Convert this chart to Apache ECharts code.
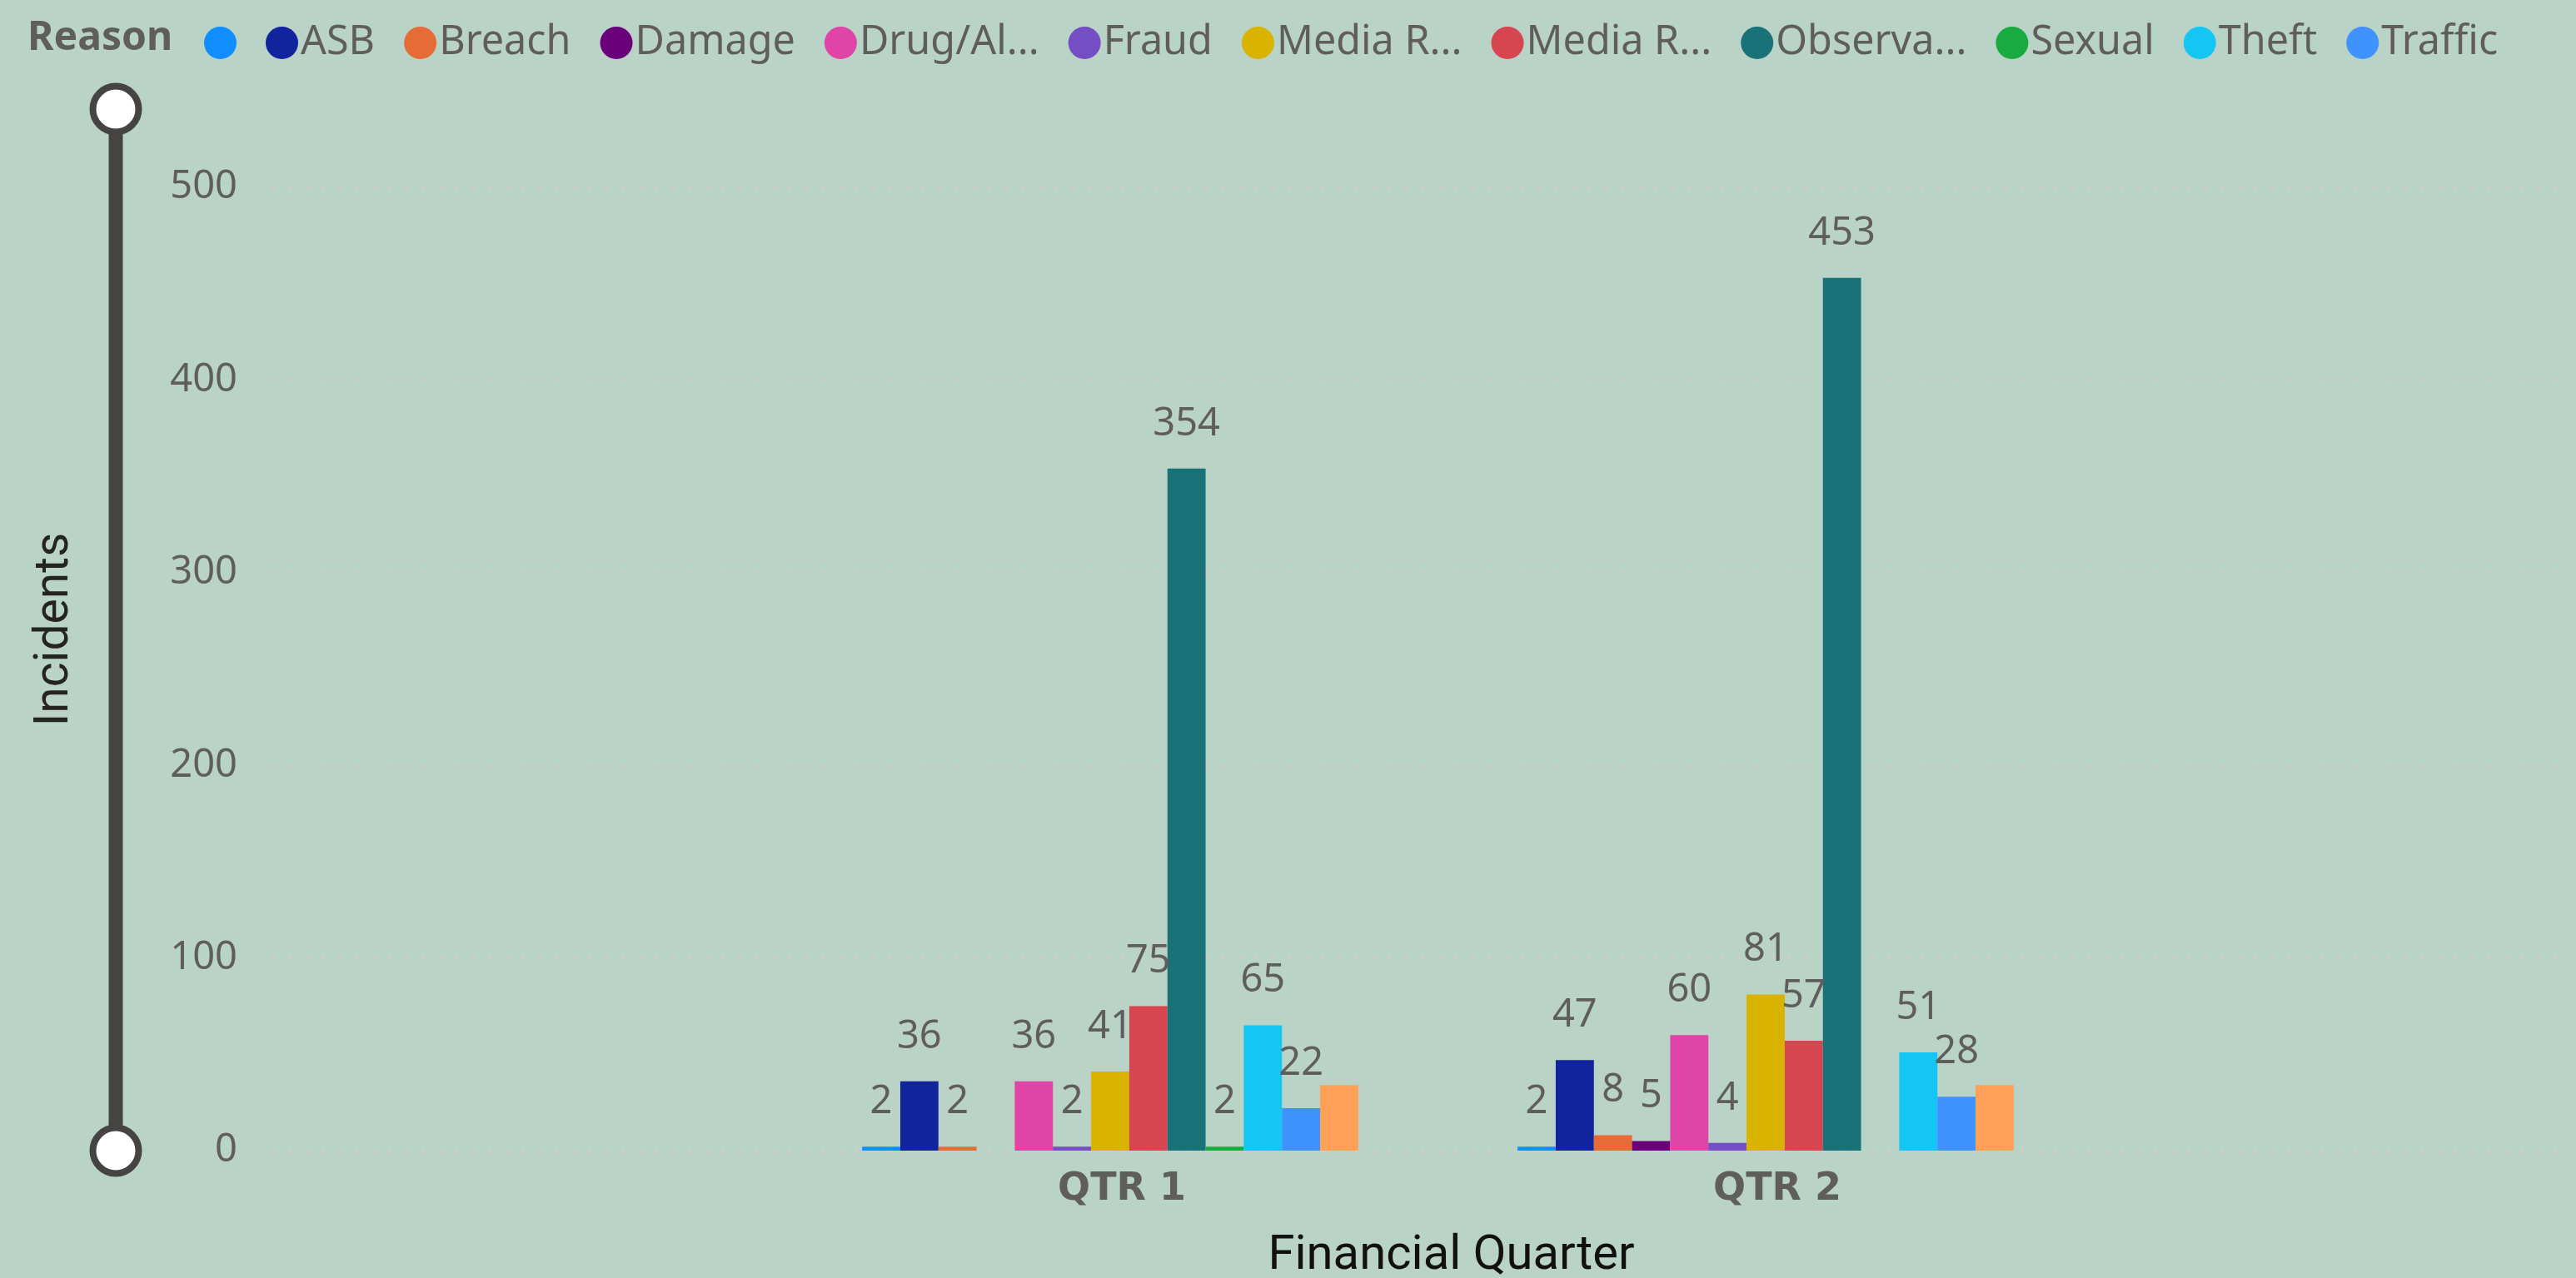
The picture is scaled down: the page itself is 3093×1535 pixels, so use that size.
<!DOCTYPE html>
<html>
<head>
<meta charset="utf-8">
<title>Incidents by Financial Quarter</title>
<script src="https://cdn.jsdelivr.net/npm/echarts@6/dist/echarts.min.js"></script>
<style>
  html, body { margin: 0; padding: 0; background: #bad3c7; }
  #chart { width: 3093px; height: 1535px; }
</style>
</head>
<body>
<div id="chart"></div>
<script>
// categories on the x axis
var quarters = ['QTR 1', 'QTR 2'];

// one series per reason (last one is cut off in the legend)
var reasons = ['(Blank)', 'ASB', 'Breach', 'Damage', 'Drug/Alcohol', 'Fraud', 'Media Request',
               'Media Report', 'Observation', 'Sexual', 'Theft', 'Traffic', 'Other'];
// what the legend actually shows
var legendLabels = ['', 'ASB', 'Breach', 'Damage', 'Drug/Al...', 'Fraud', 'Media R...',
                    'Media R...', 'Observa...', 'Sexual', 'Theft', 'Traffic'];

// incidents per reason, null = no bar
var qtr1 = [2, 36, 2, null, 36, 2, 41, 75, 354, 2, 65, 22, 34];
var qtr2 = [2, 47, 8, 5, 60, 4, 81, 57, 453, null, 51, 28, 34];

var yTicks = [0, 100, 200, 300, 400, 500];

var colors = ['#118DFF', '#12239E', '#E66C37', '#6B007B', '#E044A7', '#744EC2', '#D9B300',
              '#D64550', '#197278', '#1AAB40', '#15C6F4', '#4092FF', '#FFA058'];

var txt = '#605E5C';
var uiFont = '"Noto Sans", sans-serif';

var chart = echarts.init(document.getElementById('chart'));

var series = reasons.map(function (name, i) {
    return {
        name: name,
        type: 'bar',
        xAxisIndex: 1,
        yAxisIndex: 1,
        barGap: '0%',
        barCategoryGap: '24.3%',
        data: [qtr1[i], qtr2[i]],
        itemStyle: { color: colors[i] },
        label: {
            show: i < 12,
            position: 'top',
            distance: 30,
            color: txt,
            fontFamily: uiFont,
            fontSize: 47
        }
    };
});

// grid lines: dotted, hide the one at the axis max
var gridColors = yTicks.map(function () { return '#d8cacc'; });
gridColors.push('rgba(0,0,0,0)');

var option = {
    backgroundColor: '#bad3c7',
    animation: false,
    color: colors,
    title: {
        text: 'Reason',
        left: 28,
        top: 17,
        textStyle: {
            color: txt,
            fontFamily: uiFont,
            fontWeight: 'bold',
            fontSize: 48
        }
    },
    legend: {
        left: 240,
        top: 22,
        icon: 'circle',
        itemWidth: 39,
        itemHeight: 39,
        itemGap: 35,
        selectedMode: false,
        data: reasons.slice(0, 12),
        formatter: function (name) {
            return legendLabels[reasons.indexOf(name)];
        },
        textStyle: {
            color: txt,
            fontFamily: uiFont,
            fontSize: 48.5,
            padding: [0, 0, 0, -2]
        }
    },
    grid: [
        { left: 327, right: 13, top: 130, bottom: 153, outerBoundsMode: 'none' },
        { left: 939.5, right: 579.5, top: 130, bottom: 153, outerBoundsMode: 'none' }
    ],
    xAxis: [
        { type: 'value', gridIndex: 0, min: 0, max: 1, show: false },
        {
            type: 'category',
            gridIndex: 1,
            data: quarters,
            axisLine: { show: false },
            axisTick: { show: false },
            axisLabel: {
                color: txt,
                fontFamily: '"DejaVu Sans", sans-serif',
                fontWeight: 'bold',
                fontSize: 46,
                margin: 24,
                padding: [0, 0, 0, 28]
            },
            name: 'Financial Quarter',
            nameLocation: 'middle',
            nameGap: 98,
            nameTextStyle: {
                color: '#111',
                fontFamily: 'Roboto, sans-serif',
                fontSize: 58,
                padding: [0, 0, 0, 32]
            }
        }
    ],
    yAxis: [
        {
            type: 'value',
            gridIndex: 0,
            min: 0,
            max: 541,
            interval: 100,
            axisLine: { show: false },
            axisTick: { show: false },
            axisLabel: {
                showMaxLabel: false,
                color: txt,
                fontFamily: uiFont,
                fontSize: 47,
                margin: 42
            },
            splitLine: {
                show: true,
                lineStyle: { color: gridColors, width: 3, type: [3, 17] }
            },
            name: 'Incidents',
            nameLocation: 'middle',
            nameRotate: 90,
            nameGap: 232,
            nameTextStyle: {
                color: '#252423',
                fontFamily: 'Roboto, sans-serif',
                fontSize: 57
            }
        },
        { type: 'value', gridIndex: 1, min: 0, max: 541, show: false }
    ],
    dataZoom: [{
        type: 'slider',
        orient: 'vertical',
        yAxisIndex: [0, 1],
        filterMode: 'none',
        start: 0,
        end: 100,
        left: 126.5,
        width: 17,
        top: 130,
        bottom: 152,
        showDetail: false,
        showDataShadow: false,
        brushSelect: false,
        backgroundColor: 'rgba(0,0,0,0)',
        borderColor: 'rgba(0,0,0,0)',
        fillerColor: '#464442',
        handleIcon: 'circle',
        handleSize: 55,
        handleStyle: { color: '#ffffff', borderColor: '#464442', borderWidth: 8 },
        moveHandleSize: 0,
        moveHandleStyle: { opacity: 0 },
        emphasis: {
            handleStyle: { color: '#ffffff', borderColor: '#464442', borderWidth: 8 },
            moveHandleStyle: { opacity: 0 }
        }
    }],
    series: series
};

chart.setOption(option);
</script>
</body>
</html>
